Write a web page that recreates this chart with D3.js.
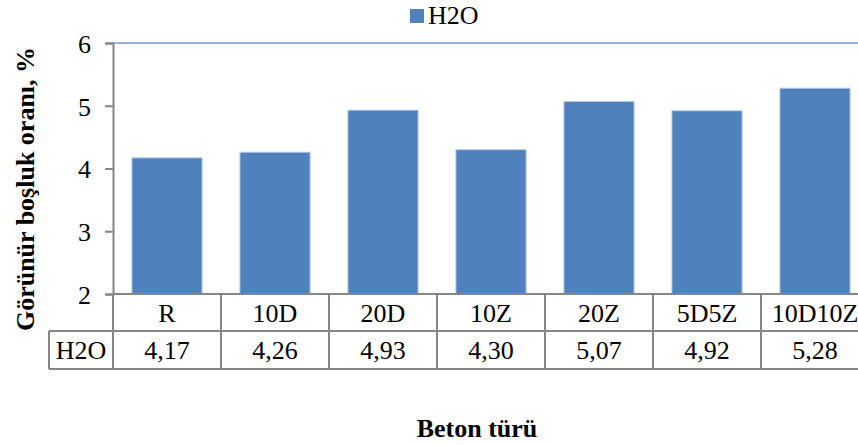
<!DOCTYPE html>
<html>
<head>
<meta charset="utf-8">
<script src="https://cdn.jsdelivr.net/npm/d3@7"></script>
<style>
  body { margin: 0; background: #fff; }
  svg text { font-family: "Liberation Serif", "Times New Roman", serif; fill: #000; }
</style>
</head>
<body>
<div id="chart"></div>
<script>
// data
var categories = ['R', '10D', '20D', '10Z', '20Z', '5D5Z', '10D10Z']
var h2oValues = [4.17, 4.26, 4.93, 4.30, 5.07, 4.92, 5.28]
var h2oLabels = ['4,17', '4,26', '4,93', '4,30', '5,07', '4,92', '5,28']
var yTicks = [2, 3, 4, 5, 6]
var seriesName = 'H2O'

var width = 858, height = 445
var plot = {left: 113, right: 869, top: 43, bottom: 294}
var rowH = [37, 38]
var fontSize = '26px'

var barColor = '#4f81bd'
var gridColor = '#868686'

var svg = d3.select('#chart')
  .append('svg')
  .attr('width', width)
  .attr('height', height)

var x = d3.scaleBand()
  .domain(categories)
  .range([plot.left, plot.right])
  .paddingInner(0.35)
  .paddingOuter(0.175)

var xCol = d3.scaleBand()
  .domain(categories)
  .range([plot.left, plot.right])

var y = d3.scaleLinear()
  .domain([2, 6])
  .range([plot.bottom, plot.top])

// top gridline (max)
svg.append('line')
  .attr('x1', plot.left).attr('x2', plot.right)
  .attr('y1', y(6)).attr('y2', y(6))
  .attr('stroke', '#95b3de')
  .attr('stroke-width', 2)

// bars
svg.selectAll('rect.bar')
  .data(h2oValues)
  .enter()
  .append('rect')
  .attr('class', 'bar')
  .attr('x', function(d, i) { return x(categories[i]) })
  .attr('y', function(d) { return y(d) })
  .attr('width', x.bandwidth())
  .attr('height', function(d) { return y(2) - y(d) })
  .attr('fill', barColor)
  .attr('stroke', '#b9cde5')
  .attr('stroke-width', 1)

// y axis
var yAxis = d3.axisLeft(y)
  .tickValues(yTicks)
  .tickFormat(d3.format('d'))
  .tickSize(8)
  .tickPadding(14)

var gy = svg.append('g')
  .attr('transform', 'translate(' + plot.left + ',0)')
  .call(yAxis)
gy.attr('font-family', null).attr('font-size', null)
gy.select('.domain').attr('stroke', gridColor).attr('stroke-width', 2)
gy.selectAll('.tick line').attr('stroke', gridColor).attr('stroke-width', 2)
gy.selectAll('.tick text')
  .attr('fill', '#000')
  .attr('dy', '0.36em')
  .style('font-size', fontSize)

// data table
var t0 = plot.bottom, t1 = t0 + rowH[0], t2 = t1 + rowH[1]
var table = svg.append('g')
  .attr('stroke', gridColor)
  .attr('stroke-width', 2)

table.append('line').attr('x1', plot.left).attr('x2', plot.right).attr('y1', t0).attr('y2', t0)
table.append('line').attr('x1', 49).attr('x2', plot.right).attr('y1', t1).attr('y2', t1)
table.append('line').attr('x1', 49).attr('x2', plot.right).attr('y1', t2).attr('y2', t2)
table.append('line').attr('x1', 49).attr('x2', 49).attr('y1', t1).attr('y2', t2)

table.selectAll('line.col')
  .data(categories)
  .enter()
  .append('line')
  .attr('class', 'col')
  .attr('x1', function(d) { return xCol(d) })
  .attr('x2', function(d) { return xCol(d) })
  .attr('y1', t0)
  .attr('y2', t2)

svg.selectAll('text.cat')
  .data(categories)
  .enter()
  .append('text')
  .attr('class', 'cat')
  .attr('x', function(d) { return xCol(d) + xCol.bandwidth() / 2 })
  .attr('y', t0 + 28)
  .attr('text-anchor', 'middle')
  .style('font-size', fontSize)
  .text(function(d) { return d })

svg.selectAll('text.val')
  .data(h2oLabels)
  .enter()
  .append('text')
  .attr('class', 'val')
  .attr('x', function(d, i) { return xCol(categories[i]) + xCol.bandwidth() / 2 })
  .attr('y', t1 + 28)
  .attr('text-anchor', 'middle')
  .style('font-size', fontSize)
  .text(function(d) { return d })

svg.append('text')
  .attr('x', 81)
  .attr('y', t1 + 28)
  .attr('text-anchor', 'middle')
  .style('font-size', fontSize)
  .text(seriesName)

// legend
svg.append('rect')
  .attr('x', 410).attr('y', 9)
  .attr('width', 14).attr('height', 14)
  .attr('fill', barColor)
svg.append('text')
  .attr('x', 428).attr('y', 24)
  .style('font-size', fontSize)
  .text(seriesName)

// axis titles
svg.append('text')
  .attr('transform', 'translate(34,189) rotate(-90)')
  .attr('text-anchor', 'middle')
  .style('font-size', fontSize)
  .style('font-weight', 'bold')
  .text('Görünür boşluk oranı, %')

svg.append('text')
  .attr('x', 477)
  .attr('y', 437)
  .attr('text-anchor', 'middle')
  .style('font-size', fontSize)
  .style('font-weight', 'bold')
  .text('Beton türü')
</script>
</body>
</html>
